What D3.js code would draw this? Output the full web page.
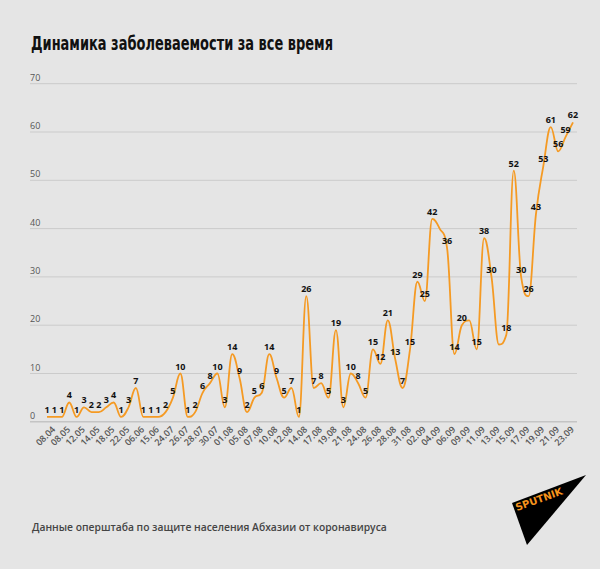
<!DOCTYPE html>
<html><head><meta charset="utf-8">
<script src="https://cdn.jsdelivr.net/npm/d3@7"></script>
<style>
html,body{margin:0;padding:0;background:#e5e5e5;}
svg{display:block;}
</style></head>
<body>
<script>
// ---- data ----
const values = [1,1,1,4,1,3,2,2,3,4,1,3,7,1,1,1,2,5,10,1,2,6,8,10,
  3,14,9,2,5,6,14,9,5,7,1,26,7,8,5,19,3,10,8,5,15,12,21,13,7,15,29,25,
  42,40,36,14,20,21,15,38,30,16,18,52,30,26,43,53,61,56,59,62];
const hiddenLabels = [53,57,61];
const tickLabels = ["08.04","08.05","12.05","14.05","18.05","22.05","06.06","15.06",
  "24.07","26.07","28.07","30.07","01.08","05.08","07.08","10.08","12.08","14.08",
  "17.08","19.08","21.08","24.08","26.08","28.08","31.08","02.09","04.09","06.09",
  "09.09","11.09","13.09","15.09","17.09","19.09","21.09","23.09"];
const yTicks = [0,10,20,30,40,50,60,70];
const title = "Динамика заболеваемости за все время";
const source = "Данные оперштаба по защите населения Абхазии от коронавируса";

const W = 600, H = 569;
const svg = d3.select("body").append("svg").attr("width", W).attr("height", H);
svg.append("rect").attr("width", W).attr("height", H).attr("fill", "#e5e5e5");

const x = d3.scalePoint().domain(d3.range(values.length)).range([47, 573]);
const y = d3.scaleLinear().domain([0, 70]).range([421.8, 83.7]);

// title
svg.append("text").attr("x", 31).attr("y", 50)
  .attr("font-family", "'DejaVu Sans Condensed','DejaVu Sans',sans-serif")
  .attr("font-stretch", "condensed")
  .attr("font-weight", "bold").attr("font-size", 19).attr("fill", "#111")
  .attr("textLength", 302).attr("lengthAdjust", "spacingAndGlyphs").text(title);

// grid
const g = svg.append("g");
yTicks.forEach(t => {
  g.append("line").attr("x1", 30).attr("x2", 577).attr("y1", y(t)).attr("y2", y(t))
    .attr("stroke", t === 0 ? "#c4c4c4" : "#cbcbcb").attr("stroke-width", t === 0 ? 1.5 : 1);
  g.append("text").attr("x", 30).attr("y", y(t) - 3).attr("font-family", "'Open Sans',sans-serif")
    .attr("font-size", 9).attr("fill", "#555").text(t);
});

// x tick labels (every other category)
tickLabels.forEach((lab, k) => {
  const xi = x(k * 2) + 9, yi = 430;
  svg.append("text").attr("transform", `translate(${xi},${yi}) rotate(-45)`)
    .attr("text-anchor", "end").attr("font-family", "'Open Sans',sans-serif")
    .attr("font-weight", 600).attr("font-size", 9).attr("fill", "#555").text(lab);
});

// Highcharts-like spline
function splinePath(pts) {
  const smoothing = 1.5, denom = smoothing + 1;
  let d = `M${pts[0][0]},${pts[0][1]}`;
  let prevRight = null;
  for (let i = 1; i < pts.length; i++) {
    const [px, py] = pts[i];
    const last = pts[i - 1], next = pts[i + 1];
    let lcx = px, lcy = py, rc = null;
    if (next) {
      lcx = (smoothing * px + last[0]) / denom;
      lcy = (smoothing * py + last[1]) / denom;
      let rcx = (smoothing * px + next[0]) / denom;
      let rcy = (smoothing * py + next[1]) / denom;
      let corr = 0;
      if (rcx !== lcx) corr = ((rcy - lcy) * (rcx - px)) / (rcx - lcx) + py - rcy;
      lcy += corr; rcy += corr;
      if (lcy > last[1] && lcy > py) { lcy = Math.max(last[1], py); rcy = 2 * py - lcy; }
      else if (lcy < last[1] && lcy < py) { lcy = Math.min(last[1], py); rcy = 2 * py - lcy; }
      if (rcy > next[1] && rcy > py) { rcy = Math.max(next[1], py); lcy = 2 * py - rcy; }
      else if (rcy < next[1] && rcy < py) { rcy = Math.min(next[1], py); lcy = 2 * py - rcy; }
      rc = [rcx, rcy];
    }
    const c1 = prevRight || last;
    d += `C${c1[0]},${c1[1]} ${lcx},${lcy} ${px},${py}`;
    prevRight = rc;
  }
  return d;
}
const pts = values.map((v, i) => [x(i), y(v)]);
svg.append("path").attr("d", splinePath(pts)).attr("fill", "none")
  .attr("stroke", "#f59a23").attr("stroke-width", 1.8).attr("stroke-linejoin", "round");

// data labels
svg.append("g").selectAll("text").data(values.map((v, i) => ({v, i})).filter(d => !hiddenLabels.includes(d.i)))
  .join("text").attr("x", d => x(d.i)).attr("y", d => y(d.v) - 4)
  .attr("text-anchor", "middle").attr("font-family", "'Open Sans',sans-serif")
  .attr("font-weight", "bold").attr("font-size", 9).attr("fill", "#111").text(d => d.v);

// source
svg.append("text").attr("x", 32).attr("y", 531).attr("font-family", "'Open Sans',sans-serif")
  .attr("font-weight", 600).attr("font-size", 10.3).attr("fill", "#444").text(source);

// logo
svg.append("path").attr("d", "M512,503 L586,475 L527,545 Z").attr("fill", "#000");
svg.append("text").attr("transform", "translate(517,511) rotate(-20)")
  .attr("font-family", "'DejaVu Sans',sans-serif").attr("font-weight", "bold")
  .attr("font-size", 10).attr("fill", "#f7941d").text("SPUTNIK");
</script>
</body></html>
